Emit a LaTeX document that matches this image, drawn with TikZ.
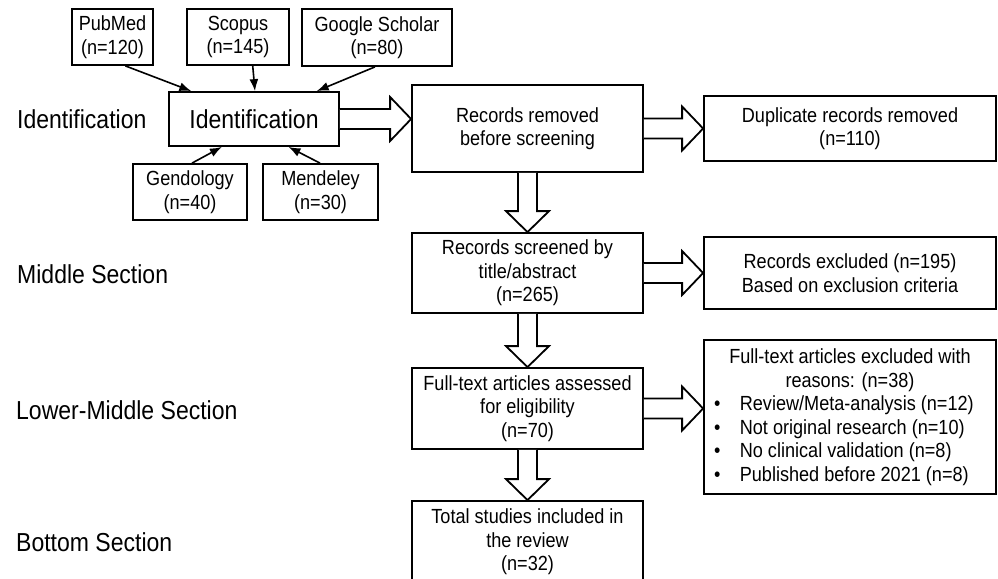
\documentclass[tikz,border=0pt]{standalone}
\usepackage{fontspec}
\setmainfont{Liberation Sans}[FakeStretch=0.885]
\usetikzlibrary{arrows.meta,calc}

\newcommand{\boxfont}{\fontsize{20.45pt}{23.5pt}\selectfont}
\newcommand{\lblfont}{\fontsize{26pt}{29pt}\selectfont}

\tikzset{
  flowbox/.style={draw, line width=1.8pt, align=center, inner sep=0pt, font=\boxfont},
  lbl/.style={anchor=west, inner sep=0pt, font=\lblfont},
  feed/.style={-{Latex[length=12pt,width=9pt]}, line width=1.6pt},
  fat/.style={draw, line width=1.8pt, fill=white}
}

\newcommand{\fatright}[2]{%
  \path[fat] let \p1=(#1.east), \p2=(#2.west) in
    (\x1,\y1+10pt) -- (\x2-21pt,\y1+10pt) -- (\x2-21pt,\y1+22pt) -- (\x2,\y1)
    -- (\x2-21pt,\y1-22pt) -- (\x2-21pt,\y1-10pt) -- (\x1,\y1-10pt);}
\newcommand{\fatdown}[2]{%
  \path[fat] let \p1=(#1.south), \p2=(#2.north) in
    (\x1-9.5pt,\y1) -- (\x1-9.5pt,\y2+21pt) -- (\x1-21.5pt,\y2+21pt) -- (\x1,\y2)
    -- (\x1+21.5pt,\y2+21pt) -- (\x1+9.5pt,\y2+21pt) -- (\x1+9.5pt,\y1);}

\begin{document}
\begin{tikzpicture}[x=1pt,y=-1pt]
  \clip (0,0) rectangle (998,578);

  \node[lbl] (lid)  at (17,119) {Identification};
  \node[lbl] (lmid) at (17,274) {Middle Section};
  \node[lbl] (llow) at (16,410) {Lower-Middle Section};
  \node[lbl] (lbot) at (16,542) {Bottom Section};

  \node[flowbox, minimum width=81pt, minimum height=56pt] (pub) at (112.5,37) {PubMed\\(n=120)};
  \node[flowbox, minimum width=102pt, minimum height=56pt] (scop) at (238,37) {Scopus\\(n=145)};
  \node[flowbox, minimum width=150pt, minimum height=57pt] (gsch) at (377,37.5) {Google Scholar\\(n=80)};
  \node[flowbox, minimum width=170pt, minimum height=54pt, font=\lblfont] (ident) at (254,119) {Identification};
  \node[flowbox, minimum width=114pt, minimum height=56pt] (gend) at (190,192) {Gendology\\(n=40)};
  \node[flowbox, minimum width=115pt, minimum height=56pt] (mend) at (320.5,192) {Mendeley\\(n=30)};

  \node[flowbox, minimum width=231pt, minimum height=87pt] (rem) at (527.5,128.5) {Records removed\\before screening};
  \node[flowbox, minimum width=231pt, minimum height=80pt] (scr) at (527.5,273) {Records screened by\\title/abstract\\(n=265)};
  \node[flowbox, minimum width=231pt, minimum height=81pt] (full) at (527.5,408.5) {Full-text articles assessed\\for eligibility\\(n=70)};
  \node[flowbox, minimum width=231pt, minimum height=82pt] (tot) at (527.5,542) {Total studies included in\\the review\\(n=32)};

  \node[flowbox, minimum width=292pt, minimum height=65pt] (dup) at (850,128.5) {Duplicate records removed\\(n=110)};
  \node[flowbox, minimum width=292pt, minimum height=72pt] (excl) at (850,273) {Records excluded (n=195)\\Based on exclusion criteria};
  \node[flowbox, minimum width=292pt, minimum height=154pt] (fexcl) at (850,417) {Full-text articles excluded with\\reasons: (n=38)\\
    \makebox[272pt][l]{\textbullet\hspace{19.5pt}Review/Meta-analysis (n=12)}\\
    \makebox[272pt][l]{\textbullet\hspace{19.5pt}Not original research (n=10)}\\
    \makebox[272pt][l]{\textbullet\hspace{19.5pt}No clinical validation (n=8)}\\
    \makebox[272pt][l]{\textbullet\hspace{19.5pt}Published before 2021 (n=8)}};

  \draw[feed] (pub.-66) to (ident.156);
  \draw[feed] (scop.-63) to (ident.88);
  \draw[feed] (gsch.-94) to (ident.24);
  \draw[feed] (gend.86) to (ident.-139);
  \draw[feed] (mend.91) to (ident.-39);

  \fatright{ident}{rem}
  \fatright{rem}{dup}
  \fatright{scr}{excl}
  \fatright{full}{fexcl}
  \fatdown{rem}{scr}
  \fatdown{scr}{full}
  \fatdown{full}{tot}
\end{tikzpicture}
\end{document}
